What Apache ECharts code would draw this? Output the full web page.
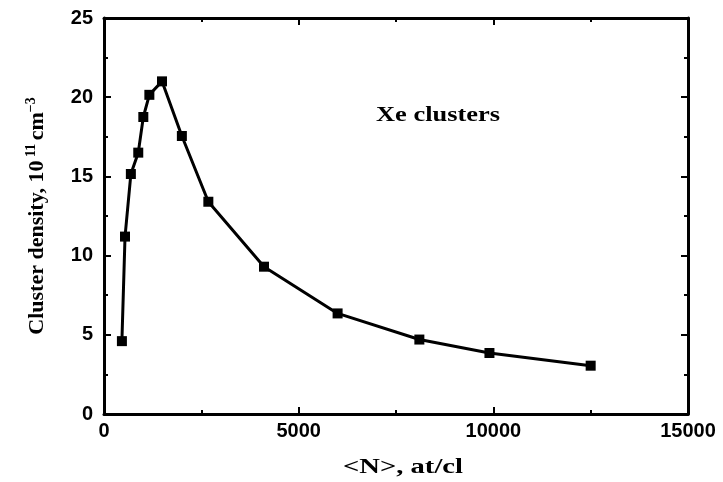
<!DOCTYPE html>
<html>
<head>
<meta charset="utf-8">
<script src="https://cdn.jsdelivr.net/npm/echarts@6/dist/echarts.min.js"></script>
<style>
  html, body { margin: 0; padding: 0; background: #fff; }
  #chart { width: 723px; height: 482px; }
</style>
</head>
<body>
<div id="chart"></div>
<script>
// mean cluster size <N> (at/cl) and cluster density (1e11 cm^-3)
const clusterSize = [460, 540, 690, 880, 1010, 1165, 1490, 2000, 2680, 4110, 6000, 8100, 9900, 12500];
const clusterDensity = [4.6, 11.2, 15.15, 16.5, 18.75, 20.15, 21.0, 17.55, 13.4, 9.3, 6.35, 4.7, 3.85, 3.05];
const xTicks = [0, 5000, 10000, 15000];
const yTicks = [0, 5, 10, 15, 20, 25];

const chart = echarts.init(document.getElementById('chart'));

const serif = '"Liberation Serif", "Times New Roman", serif';
const sans = '"Liberation Sans", Arial, sans-serif';

function frameAxis(extra) {
    return Object.assign({
        type: 'value',
        axisLine: { show: true, onZero: false, lineStyle: { color: '#000', width: 3 } },
        axisTick: { show: true, inside: true, length: 7, lineStyle: { color: '#000', width: 2 } },
        minorTick: { show: true, splitNumber: 2, length: 4, lineStyle: { color: '#000', width: 2 } },
        splitLine: { show: false },
        axisLabel: { show: false }
    }, extra);
}

const option = {
    animation: false,
    backgroundColor: '#fff',
    grid: { left: 104, right: 35, top: 18, bottom: 68 },
    xAxis: [
        frameAxis({
            min: 0, max: 15000, interval: 5000,
            axisLabel: {
                show: true, color: '#000', fontFamily: sans, fontWeight: 'bold', fontSize: 20, margin: 7,
                formatter: v => xTicks.includes(v) ? String(v) : ''
            }
        }),
        frameAxis({ position: 'top', min: 0, max: 15000, interval: 5000 })
    ],
    yAxis: [
        frameAxis({
            min: 0, max: 25, interval: 5,
            name: '{a|Cluster density, 10}{s| 11 }{a|cm}{s|−3}',
            nameLocation: 'middle',
            nameGap: 54,
            nameTextStyle: {
                rich: {
                    a: { fontFamily: serif, fontWeight: 'bold', fontSize: 22, color: '#000', lineHeight: 26 },
                    s: { fontFamily: serif, fontWeight: 'bold', fontSize: 14, color: '#000', lineHeight: 26, verticalAlign: 'top', padding: [0, 0, 16, 0] }
                }
            },
            axisLabel: {
                show: true, color: '#000', fontFamily: sans, fontWeight: 'bold', fontSize: 20, margin: 11,
                formatter: v => yTicks.includes(v) ? String(v) : ''
            }
        }),
        frameAxis({ position: 'right', min: 0, max: 25, interval: 5 })
    ],
    graphic: [{
        type: 'text',
        x: 403,
        y: 467,
        scaleX: 1.3,
        style: {
            text: '<N>, at/cl', fontFamily: serif, fontWeight: 'bold', fontSize: 22, fill: '#000',
            textAlign: 'center', textVerticalAlign: 'middle'
        }
    }, {
        type: 'text',
        x: 438,
        y: 115,
        scaleX: 1.2,
        style: {
            text: 'Xe clusters', fontFamily: serif, fontWeight: 'bold', fontSize: 22, fill: '#000',
            textAlign: 'center', textVerticalAlign: 'middle'
        }
    }],
    series: [{
        type: 'line',
        data: clusterSize.map((x, i) => [x, clusterDensity[i]]),
        symbol: 'rect',
        symbolSize: 10,
        lineStyle: { color: '#000', width: 3 },
        itemStyle: { color: '#000' }
    }]
};

chart.setOption(option);
</script>
</body>
</html>
